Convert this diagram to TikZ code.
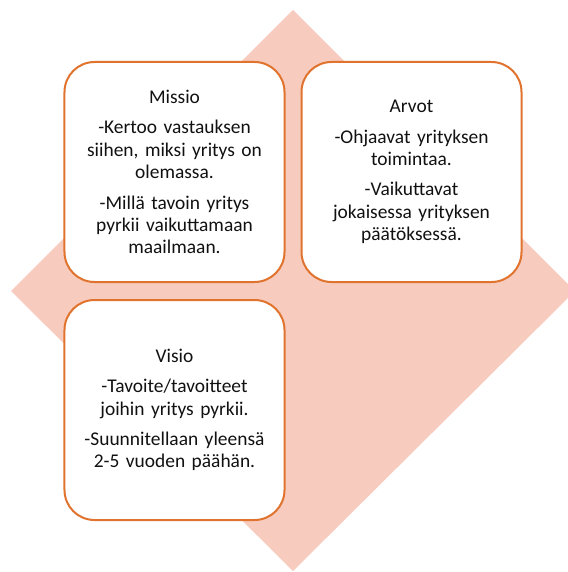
\documentclass[tikz,border=0pt]{standalone}
\usepackage{fontspec}
\setmainfont{Carlito}
\definecolor{diam}{HTML}{F7CBBD}
\definecolor{edge}{HTML}{E0742E}
\definecolor{txt}{HTML}{111111}
\begin{document}
\begin{tikzpicture}[x=1bp,y=-1bp,
  card/.style={draw=edge, line width=2bp, fill=white, rounded corners=30bp,
    minimum width=220bp, minimum height=220bp, inner sep=0pt},
  cardtext/.style={text=txt, align=center, font=\fontsize{19.5}{22.5}\selectfont, text width=210bp}]
\useasboundingbox (0,0) rectangle (568,572);
\fill[diam] (293,10) -- (575,291) -- (293,571) -- (11,291) -- cycle;
\node[card] (missio) at (174.5,172) {};
\node[card] (arvot) at (411.5,172) {};
\node[card] (visio) at (174.5,410) {};
\node[cardtext] (tm) at (missio.center) {Missio\\[8bp]-Kertoo vastauksen\\siihen, miksi yritys on\\olemassa.\\[8bp]-Millä tavoin yritys\\pyrkii vaikuttamaan\\maailmaan.};
\node[cardtext] (ta) at (arvot.center) {Arvot\\[8bp]-Ohjaavat yrityksen\\toimintaa.\\[8bp]-Vaikuttavat\\jokaisessa yrityksen\\päätöksessä.};
\node[cardtext] (tv) at (visio.center) {Visio\\[8bp]-Tavoite/tavoitteet\\joihin yritys pyrkii.\\[8bp]-Suunnitellaan yleensä\\2-5 vuoden päähän.};
\end{tikzpicture}
\end{document}
